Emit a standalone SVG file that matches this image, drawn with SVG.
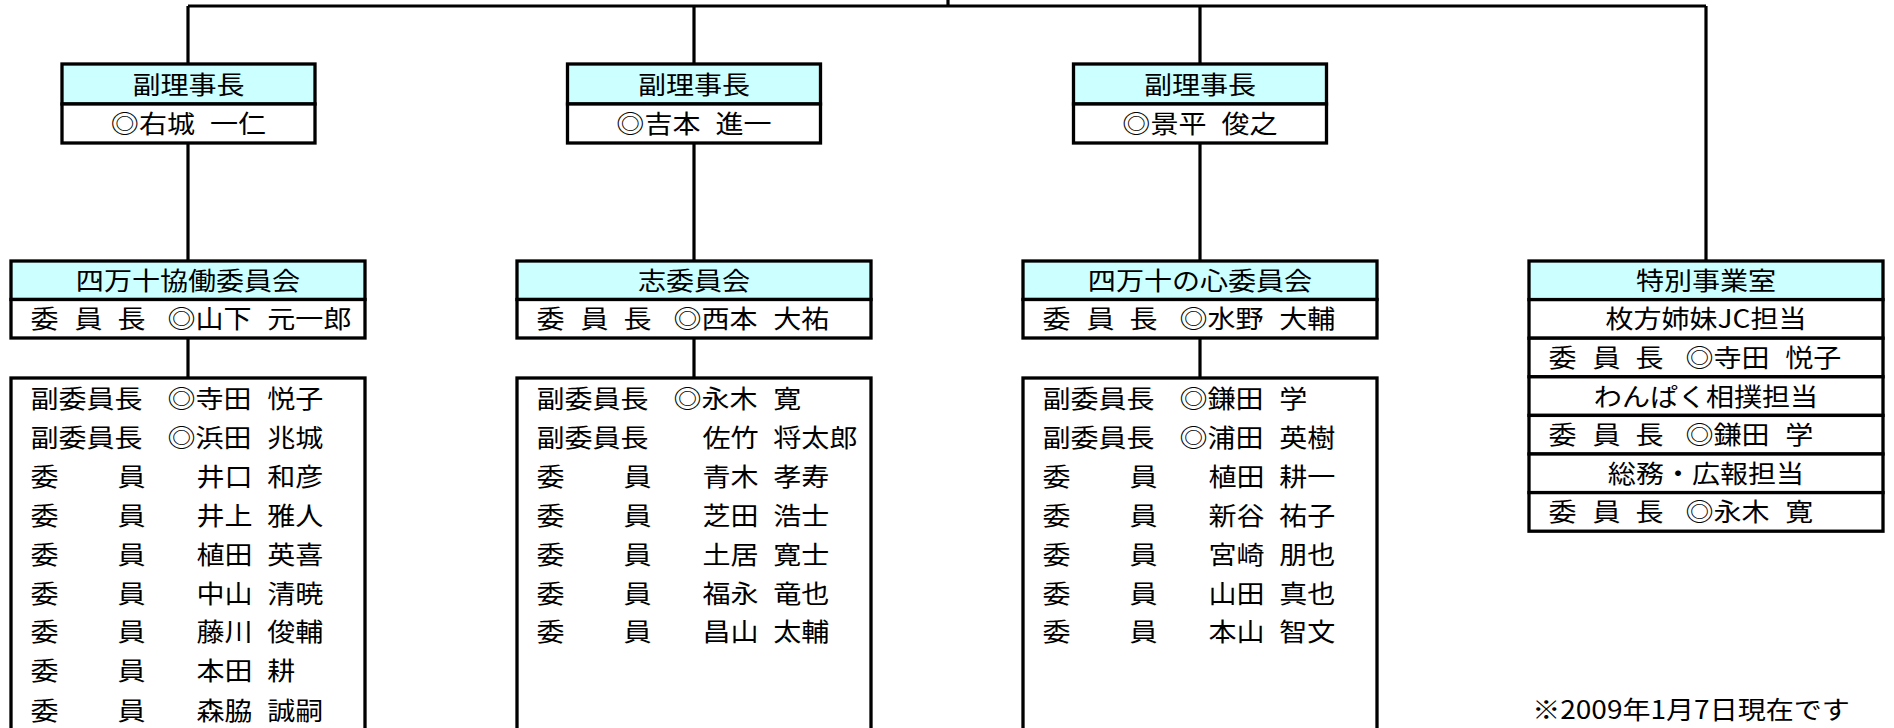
<svg xmlns="http://www.w3.org/2000/svg" width="1894" height="728" viewBox="0 0 1894 728">
<style>
.t{font-family:"Noto Sans CJK JP","Noto Sans CJK SC",sans-serif;font-size:25.5px;fill:#000}
.c{text-anchor:middle}
.h{fill:#CCFFFF;stroke:#000;stroke-width:3.3}
.w{fill:#FFFFFF;stroke:#000;stroke-width:3.3}
.ln{stroke:#000;stroke-width:3.2;fill:none}
</style>
<rect x="0" y="0" width="1894" height="728" fill="#FFFFFF"/>
<g id="connectors">
<path class="ln" d="M188,6 H1706 M948,0 V6 M188,6 V64 M694,6 V64 M1200,6 V64 M1706,6 V261 M188,143 V261 M694,143 V261 M1200,143 V261 M188,338 V378 M694,338 V378 M1200,338 V378"/>
</g>
<g id="vice1">
<rect class="h" x="62" y="64" width="253" height="40"/>
<rect class="w" x="62" y="104" width="253" height="39"/>
<text class="t c" transform="translate(188.5,93.5) scale(1.1,1)">副理事長</text>
<text class="t c" transform="translate(188.5,133) scale(1.1,1)">◎右城 <tspan dx="8">一仁</tspan></text>
</g>
<g id="vice2">
<rect class="h" x="567.5" y="64" width="253" height="40"/>
<rect class="w" x="567.5" y="104" width="253" height="39"/>
<text class="t c" transform="translate(694,93.5) scale(1.1,1)">副理事長</text>
<text class="t c" transform="translate(694,133) scale(1.1,1)">◎吉本 <tspan dx="8">進一</tspan></text>
</g>
<g id="vice3">
<rect class="h" x="1073.5" y="64" width="253" height="40"/>
<rect class="w" x="1073.5" y="104" width="253" height="39"/>
<text class="t c" transform="translate(1200,93.5) scale(1.1,1)">副理事長</text>
<text class="t c" transform="translate(1200,133) scale(1.1,1)">◎景平 <tspan dx="8">俊之</tspan></text>
</g>
<g id="committee1">
<rect class="h" x="11" y="261" width="354" height="38.5"/>
<rect class="w" x="11" y="299.5" width="354" height="38.5"/>
<text class="t c" transform="translate(188,289.5) scale(1.1,1)">四万十協働委員会</text>
<text class="t" transform="translate(11,328) scale(1.1,1)"><tspan x="17.7">委</tspan> <tspan x="57.7">員</tspan> <tspan x="96.8">長</tspan> <tspan x="142.3">◎山下</tspan> <tspan x="233">元一郎</tspan></text>
</g>
<g id="committee2">
<rect class="h" x="517" y="261" width="354" height="38.5"/>
<rect class="w" x="517" y="299.5" width="354" height="38.5"/>
<text class="t c" transform="translate(694,289.5) scale(1.1,1)">志委員会</text>
<text class="t" transform="translate(517,328) scale(1.1,1)"><tspan x="17.7">委</tspan> <tspan x="57.7">員</tspan> <tspan x="96.8">長</tspan> <tspan x="142.3">◎西本</tspan> <tspan x="233">大祐</tspan></text>
</g>
<g id="committee3">
<rect class="h" x="1023" y="261" width="354" height="38.5"/>
<rect class="w" x="1023" y="299.5" width="354" height="38.5"/>
<text class="t c" transform="translate(1200,289.5) scale(1.1,1)">四万十の心委員会</text>
<text class="t" transform="translate(1023,328) scale(1.1,1)"><tspan x="17.7">委</tspan> <tspan x="57.7">員</tspan> <tspan x="96.8">長</tspan> <tspan x="142.3">◎水野</tspan> <tspan x="233">大輔</tspan></text>
</g>
<g id="members1">
<rect class="w" x="11" y="378" width="354" height="372"/>
<text class="t" transform="translate(11,408) scale(1.1,1)"><tspan x="17.7">副委員長</tspan> <tspan x="142.3">◎寺田</tspan> <tspan x="233">悦子</tspan></text>
<text class="t" transform="translate(11,446.9) scale(1.1,1)"><tspan x="17.7">副委員長</tspan> <tspan x="142.3">◎浜田</tspan> <tspan x="233">兆城</tspan></text>
<text class="t" transform="translate(11,485.8) scale(1.1,1)"><tspan x="17.7">委</tspan> <tspan x="96.8">員</tspan> <tspan x="168.6">井口</tspan> <tspan x="233">和彦</tspan></text>
<text class="t" transform="translate(11,524.7) scale(1.1,1)"><tspan x="17.7">委</tspan> <tspan x="96.8">員</tspan> <tspan x="168.6">井上</tspan> <tspan x="233">雅人</tspan></text>
<text class="t" transform="translate(11,563.6) scale(1.1,1)"><tspan x="17.7">委</tspan> <tspan x="96.8">員</tspan> <tspan x="168.6">植田</tspan> <tspan x="233">英喜</tspan></text>
<text class="t" transform="translate(11,602.5) scale(1.1,1)"><tspan x="17.7">委</tspan> <tspan x="96.8">員</tspan> <tspan x="168.6">中山</tspan> <tspan x="233">清暁</tspan></text>
<text class="t" transform="translate(11,641.4) scale(1.1,1)"><tspan x="17.7">委</tspan> <tspan x="96.8">員</tspan> <tspan x="168.6">藤川</tspan> <tspan x="233">俊輔</tspan></text>
<text class="t" transform="translate(11,680.3) scale(1.1,1)"><tspan x="17.7">委</tspan> <tspan x="96.8">員</tspan> <tspan x="168.6">本田</tspan> <tspan x="233">耕</tspan></text>
<text class="t" transform="translate(11,719.7) scale(1.1,1)"><tspan x="17.7">委</tspan> <tspan x="96.8">員</tspan> <tspan x="168.6">森脇</tspan> <tspan x="233">誠嗣</tspan></text>
</g>
<g id="members2">
<rect class="w" x="517" y="378" width="354" height="372"/>
<text class="t" transform="translate(517,408) scale(1.1,1)"><tspan x="17.7">副委員長</tspan> <tspan x="142.3">◎永木</tspan> <tspan x="233">寛</tspan></text>
<text class="t" transform="translate(517,446.9) scale(1.1,1)"><tspan x="17.7">副委員長</tspan> <tspan x="168.6">佐竹</tspan> <tspan x="233">将太郎</tspan></text>
<text class="t" transform="translate(517,485.8) scale(1.1,1)"><tspan x="17.7">委</tspan> <tspan x="96.8">員</tspan> <tspan x="168.6">青木</tspan> <tspan x="233">孝寿</tspan></text>
<text class="t" transform="translate(517,524.7) scale(1.1,1)"><tspan x="17.7">委</tspan> <tspan x="96.8">員</tspan> <tspan x="168.6">芝田</tspan> <tspan x="233">浩士</tspan></text>
<text class="t" transform="translate(517,563.6) scale(1.1,1)"><tspan x="17.7">委</tspan> <tspan x="96.8">員</tspan> <tspan x="168.6">土居</tspan> <tspan x="233">寛士</tspan></text>
<text class="t" transform="translate(517,602.5) scale(1.1,1)"><tspan x="17.7">委</tspan> <tspan x="96.8">員</tspan> <tspan x="168.6">福永</tspan> <tspan x="233">竜也</tspan></text>
<text class="t" transform="translate(517,641.4) scale(1.1,1)"><tspan x="17.7">委</tspan> <tspan x="96.8">員</tspan> <tspan x="168.6">昌山</tspan> <tspan x="233">太輔</tspan></text>
</g>
<g id="members3">
<rect class="w" x="1023" y="378" width="354" height="372"/>
<text class="t" transform="translate(1023,408) scale(1.1,1)"><tspan x="17.7">副委員長</tspan> <tspan x="142.3">◎鎌田</tspan> <tspan x="233">学</tspan></text>
<text class="t" transform="translate(1023,446.9) scale(1.1,1)"><tspan x="17.7">副委員長</tspan> <tspan x="142.3">◎浦田</tspan> <tspan x="233">英樹</tspan></text>
<text class="t" transform="translate(1023,485.8) scale(1.1,1)"><tspan x="17.7">委</tspan> <tspan x="96.8">員</tspan> <tspan x="168.6">植田</tspan> <tspan x="233">耕一</tspan></text>
<text class="t" transform="translate(1023,524.7) scale(1.1,1)"><tspan x="17.7">委</tspan> <tspan x="96.8">員</tspan> <tspan x="168.6">新谷</tspan> <tspan x="233">祐子</tspan></text>
<text class="t" transform="translate(1023,563.6) scale(1.1,1)"><tspan x="17.7">委</tspan> <tspan x="96.8">員</tspan> <tspan x="168.6">宮崎</tspan> <tspan x="233">朋也</tspan></text>
<text class="t" transform="translate(1023,602.5) scale(1.1,1)"><tspan x="17.7">委</tspan> <tspan x="96.8">員</tspan> <tspan x="168.6">山田</tspan> <tspan x="233">真也</tspan></text>
<text class="t" transform="translate(1023,641.4) scale(1.1,1)"><tspan x="17.7">委</tspan> <tspan x="96.8">員</tspan> <tspan x="168.6">本山</tspan> <tspan x="233">智文</tspan></text>
</g>
<g id="special">
<rect class="h" x="1529" y="261" width="354" height="38.6"/>
<rect class="w" x="1529" y="299.6" width="354" height="38.6"/>
<rect class="w" x="1529" y="338.2" width="354" height="38.6"/>
<rect class="w" x="1529" y="376.8" width="354" height="38.6"/>
<rect class="w" x="1529" y="415.4" width="354" height="38.6"/>
<rect class="w" x="1529" y="454" width="354" height="38.6"/>
<rect class="w" x="1529" y="492.6" width="354" height="38.6"/>
<text class="t c" transform="translate(1706,289.8) scale(1.1,1)">特別事業室</text>
<text class="t c" transform="translate(1706,328.4) scale(1.1,1)">枚方姉妹JC担当</text>
<text class="t" transform="translate(1529,367) scale(1.1,1)"><tspan x="17.7">委</tspan> <tspan x="57.7">員</tspan> <tspan x="96.8">長</tspan> <tspan x="142.3">◎寺田</tspan> <tspan x="233">悦子</tspan></text>
<text class="t c" transform="translate(1706,405.6) scale(1.1,1)">わんぱく相撲担当</text>
<text class="t" transform="translate(1529,444.2) scale(1.1,1)"><tspan x="17.7">委</tspan> <tspan x="57.7">員</tspan> <tspan x="96.8">長</tspan> <tspan x="142.3">◎鎌田</tspan> <tspan x="233">学</tspan></text>
<text class="t c" transform="translate(1706,482.8) scale(1.1,1)">総務・広報担当</text>
<text class="t" transform="translate(1529,521.4) scale(1.1,1)"><tspan x="17.7">委</tspan> <tspan x="57.7">員</tspan> <tspan x="96.8">長</tspan> <tspan x="142.3">◎永木</tspan> <tspan x="233">寛</tspan></text>
</g>
<g id="note">
<text class="t c" transform="translate(1691,719) scale(1.1,1)">※2009年1月7日現在です</text>
</g>
</svg>
